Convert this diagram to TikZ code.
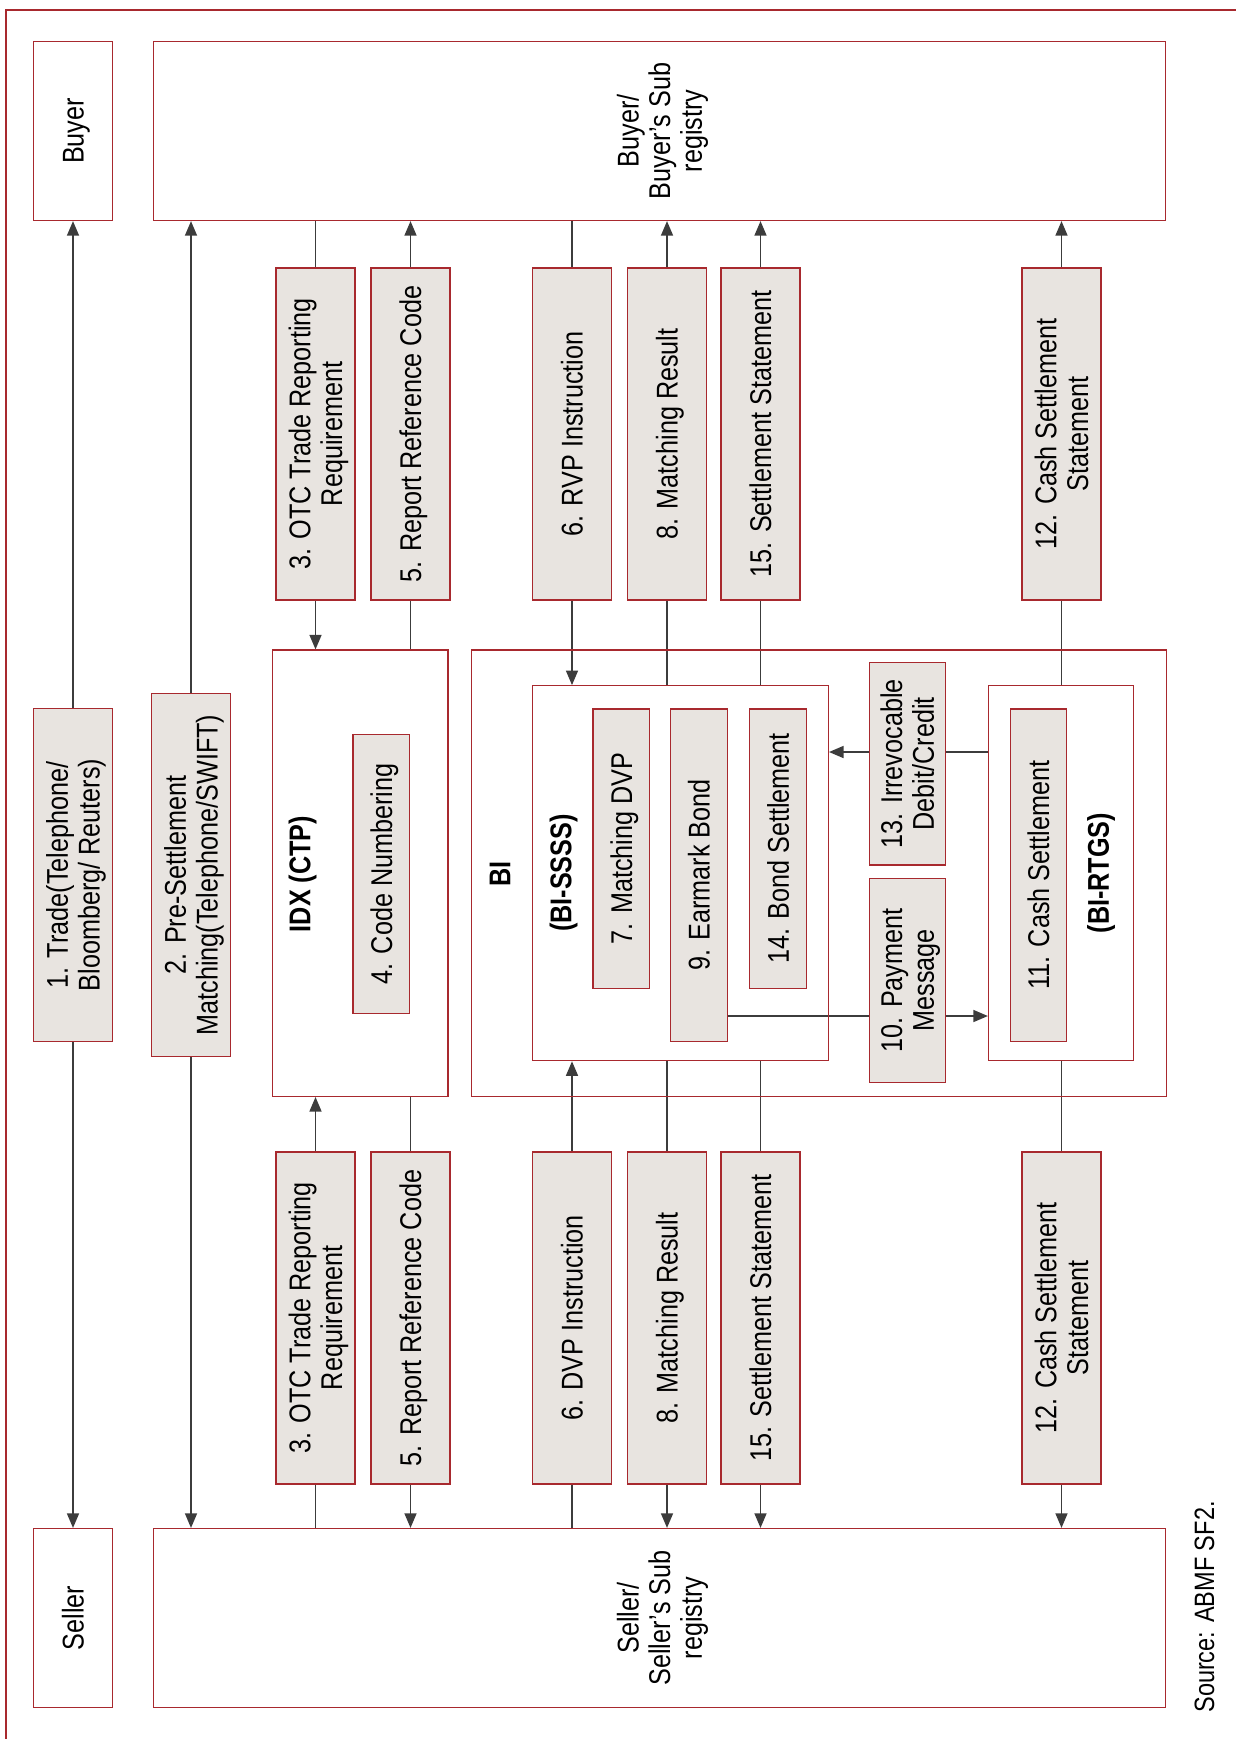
\documentclass[tikz,border=0pt]{standalone}
\usepackage{fontspec}
\setmainfont{Liberation Sans}[FakeStretch=0.84]
\usepackage{graphicx}
\usepackage{tikz}
\usetikzlibrary{
	positioning,
	arrows.meta,
	backgrounds
}
\definecolor{boxred}{HTML}{A8292E}
\definecolor{boxfill}{HTML}{E8E4E0}
\definecolor{linecolor}{HTML}{3C3C3C}
\newcommand{\boxfont}{\fontsize{15}{15.8}\selectfont}
\newcommand{\vtxt}[1]{\rotatebox{90}{\raisebox{-2.2pt}[\height][\depth]{\begin{tabular}{@{}c@{}}#1\end{tabular}}}}
\tikzset{
	partybox/.style={
		draw=boxred,
		line width=0.6pt,
		minimum width=39.5pt,
		minimum height=89.5pt,
		inner sep=0pt,
		font=\boxfont
	},
	regbox/.style={
		partybox,
		minimum width=506pt
	},
	msgbox/.style={
		draw=boxred,
		fill=boxfill,
		line width=0.6pt,
		minimum width=39.5pt,
		minimum height=166pt,
		inner sep=0pt,
		font=\boxfont
	},
	innerbox/.style={
		msgbox,
		minimum width=28.3pt,
		minimum height=139.65pt
	},
	sysbox/.style={
		draw=boxred,
		line width=0.6pt,
		inner sep=0pt
	},
	grouplabel/.style={
		rotate=90,
		inner sep=0pt,
		font=\boxfont\bfseries
	},
	arrow/.style={
		-{Triangle[length=7.3pt,width=6pt]},
		color=linecolor,
		line width=0.8pt
	},
	link/.style={
		color=linecolor,
		line width=0.8pt
	}
}

\begin{document}
\begin{tikzpicture}[x=0.5pt, y=-0.5pt]
		\useasboundingbox (0,0) rectangle (1236,1739);
		\begin{scope}[on background layer]
			\fill[white] (0,0) rectangle (1236,1739);
		\end{scope}
		
		% Frame
		\draw[boxred, line width=0.6pt] (6,1739) -- (6,10) -- (1236,10);
		
		% Parties
		\node[partybox] (buyer) at (73,131) {\vtxt{Buyer}};
		\node[regbox] (buyreg) at (659.5,131)
		{\vtxt{Buyer/\\Buyer’s Sub\\registry}};
		\node[partybox] (seller) at (73,1618) {\vtxt{Seller}};
		\node[regbox] (sellreg) at (659.5,1618)
		{\vtxt{Seller/\\Seller’s Sub\\registry}};
		
		% Trade and pre-settlement
		\node[msgbox, minimum height=166.25pt] (trade) at (73,875)
		{\vtxt{1. Trade(Telephone/\\Bloomberg/ Reuters)}};
		\node[msgbox, minimum height=181.2pt] (presettle) at (191,875)
		{\vtxt{2. Pre-Settlement\\Matching(Telephone/SWIFT)}};
		
		% Buyer side messages
		\node[msgbox] (otcbuy) at (315.5,434)
		{\vtxt{3. OTC Trade Reporting\\Requirement}};
		\node[msgbox] (refbuy) at (410.5,434) {\vtxt{5. Report Reference Code}};
		\node[msgbox] (rvp) at (572,434) {\vtxt{6. RVP Instruction}};
		\node[msgbox] (matchbuy) at (667,434) {\vtxt{8. Matching Result}};
		\node[msgbox] (stmtbuy) at (760.5,434) {\vtxt{15. Settlement Statement}};
		\node[msgbox] (cashbuy) at (1061.5,434)
		{\vtxt{12. Cash Settlement\\Statement}};
		
		% Seller side messages
		\node[msgbox] (otcsell) at (315.5,1318)
		{\vtxt{3. OTC Trade Reporting\\Requirement}};
		\node[msgbox] (refsell) at (410.5,1318) {\vtxt{5. Report Reference Code}};
		\node[msgbox] (dvp) at (572,1318) {\vtxt{6. DVP Instruction}};
		\node[msgbox] (matchsell) at (667,1318) {\vtxt{8. Matching Result}};
		\node[msgbox] (stmtsell) at (760.5,1318) {\vtxt{15. Settlement Statement}};
		\node[msgbox] (cashsell) at (1061.5,1318)
		{\vtxt{12. Cash Settlement\\Statement}};
		
		% IDX
		\node[sysbox, minimum width=87.6pt, minimum height=223.2pt] (idx) at (360.4,873.2) {};
		\node[grouplabel] (idxlabel) at (302.5,874) {IDX (CTP)};
		\node[innerbox] (codenum) at (381.3,874) {\vtxt{4. Code Numbering}};
		
		% BI
		\node[sysbox, minimum width=347.3pt, minimum height=223.2pt] (bi) at (819,873.2) {};
		\node[grouplabel] (bilabel) at (500,874) {BI};
		
		\node[sysbox, minimum width=147.9pt, minimum height=187.5pt] (bisss) at (680.5,873.2) {};
		\node[grouplabel] (ssslabel) at (563.5,873) {(BI-SSSS)};
		\node[innerbox] (matchdvp) at (621.3,848.55) {\vtxt{7. Matching DVP}};
		\node[innerbox, minimum height=166.25pt] (earmark) at (699,875.15)
		{\vtxt{9. Earmark Bond}};
		\node[innerbox] (bondset) at (778.1,848.55) {\vtxt{14. Bond Settlement}};
		
		\node[msgbox, minimum width=37.9pt, minimum height=101.25pt] (irrev) at (907.3,763.75)
		{\vtxt{13. Irrevocable\\Debit/Credit}};
		\node[msgbox, minimum width=37.9pt, minimum height=101.75pt] (paymsg) at (907.3,980.35)
		{\vtxt{10. Payment\\Message}};
		
		\node[sysbox, minimum width=72.5pt, minimum height=187.5pt] (birtgs) at (1061,873.2) {};
		\node[grouplabel] (rtgslabel) at (1101,873) {(BI-RTGS)};
		\node[innerbox, minimum height=166.25pt] (cashset) at (1038.5,875.15)
		{\vtxt{11. Cash Settlement}};
		
		% Source
		\node[rotate=90, inner sep=0pt, font=\fontsize{14}{16}\selectfont] (source) at (1204.5,1607)
		{Source: ABMF SF2.};
		
		\coordinate (debity) at (0,752);
		\coordinate (payy) at (0,1016);
		
		% Connectors
		\begin{scope}[on background layer]
			\draw[arrow] (trade) -- (buyer);
			\draw[arrow] (trade) -- (seller);
			\draw[arrow] (presettle.north) -- (presettle.north |- buyreg.south);
			\draw[arrow] (presettle.south) -- (presettle.south |- sellreg.north);
			
			% into the systems
			\foreach \m/\s in {otcbuy/idx, rvp/bisss} {
				\draw[link] (buyreg.south -| \m) -- (\m);
				\draw[arrow] (\m) -- (\m |- \s.north);
			}
			\foreach \m/\s in {otcsell/idx, dvp/bisss} {
				\draw[link] (sellreg.north -| \m) -- (\m);
				\draw[arrow] (\m) -- (\m |- \s.south);
			}
			
			% back to the parties
			\foreach \m/\s in {refbuy/idx, matchbuy/bisss, stmtbuy/bisss, cashbuy/birtgs} {
				\draw[link] (\s.north -| \m) -- (\m);
				\draw[arrow] (\m) -- (\m |- buyreg.south);
			}
			\foreach \m/\s in {refsell/idx, matchsell/bisss, stmtsell/bisss, cashsell/birtgs} {
				\draw[link] (\s.south -| \m) -- (\m);
				\draw[arrow] (\m) -- (\m |- sellreg.north);
			}
			
			% BI-SSSS <-> BI-RTGS
			\draw[arrow] (birtgs.west |- debity) -- (bisss.east |- debity);
			\draw[arrow] (earmark.east |- payy) -- (birtgs.west |- payy);
		\end{scope}
		
	\end{tikzpicture}
\end{document}
